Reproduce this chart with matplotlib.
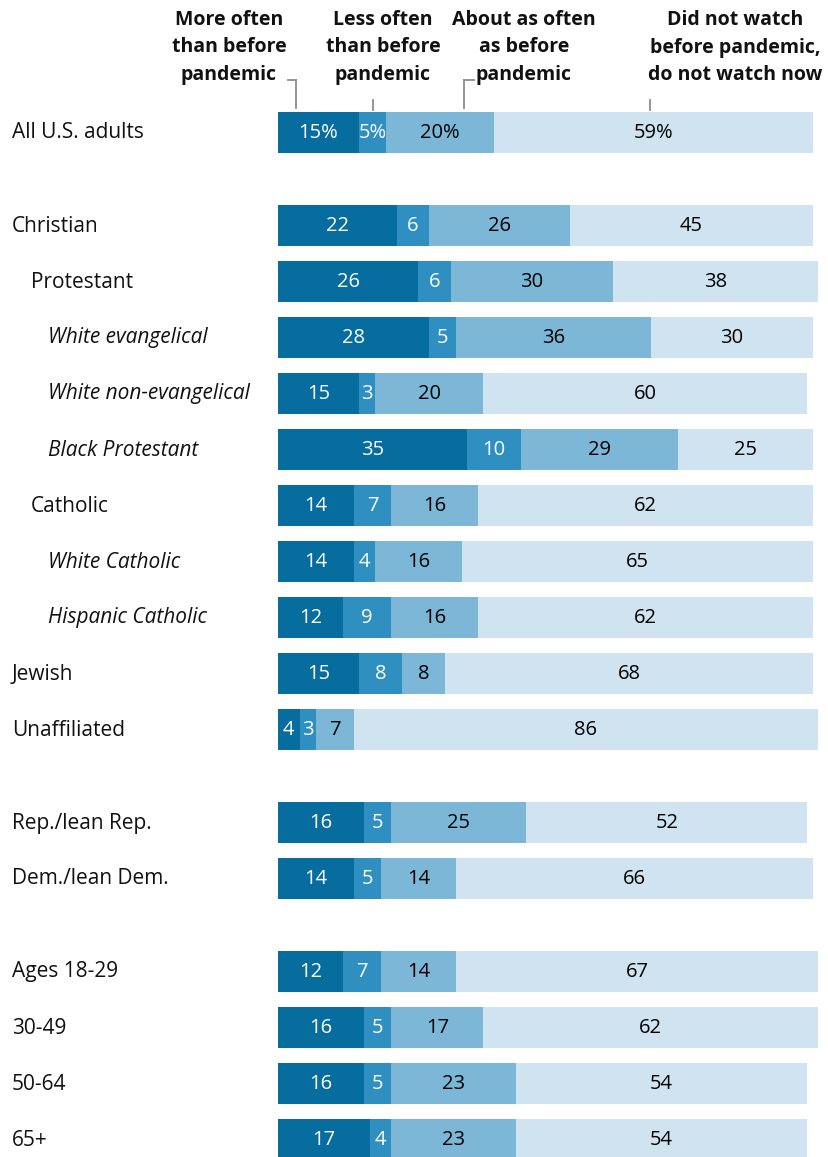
import matplotlib
matplotlib.use("Agg")
import matplotlib.pyplot as plt
from matplotlib.transforms import blended_transform_factory
from matplotlib import font_manager

# ---------------- data ----------------
categories = ["All U.S. adults", "Christian", "Protestant", "White evangelical",
              "White non-evangelical", "Black Protestant", "Catholic",
              "White Catholic", "Hispanic Catholic", "Jewish", "Unaffiliated",
              "Rep./lean Rep.", "Dem./lean Dem.",
              "Ages 18-29", "30-49", "50-64", "65+"]
indent = [0, 0, 1, 2, 2, 2, 1, 2, 2, 0, 0, 0, 0, 0, 0, 0, 0]
italic = [False, False, False, True, True, True, False, True, True,
          False, False, False, False, False, False, False, False]
group = [0, 1, 1, 1, 1, 1, 1, 1, 1, 1, 1, 2, 2, 3, 3, 3, 3]

more_often = [15, 22, 26, 28, 15, 35, 14, 14, 12, 15, 4, 16, 14, 12, 16, 16, 17]
less_often = [5, 6, 6, 5, 3, 10, 7, 4, 9, 8, 3, 5, 5, 7, 5, 5, 4]
about_same = [20, 26, 30, 36, 20, 29, 16, 16, 16, 8, 7, 25, 14, 14, 17, 23, 23]
not_watch = [59, 45, 38, 30, 60, 25, 62, 65, 62, 68, 86, 52, 66, 67, 62, 54, 54]

series = [more_often, less_often, about_same, not_watch]
series_names = ["More often\nthan before\npandemic",
                "Less often\nthan before\npandemic",
                "About as often\nas before\npandemic",
                "Did not watch\nbefore pandemic,\ndo not watch now"]
colors = ["#066d9e", "#2e8fc0", "#7cb7d7", "#d0e3f0"]
text_colors = ["white", "white", "black", "black"]

# ---------------- fonts ----------------
avail = {f.name for f in font_manager.fontManager.ttflist}
font = "Open Sans" if "Open Sans" in avail else "DejaVu Sans"

W, H = 829, 1157
fig = plt.figure(figsize=(W / 100, H / 100), dpi=100)
ax = fig.add_axes([278 / W, 0, 540 / W, 1])
ax.set_xlim(0, 100)
ax.set_ylim(H, 0)
ax.axis("off")

# row centres (pixel units along y)
ys = []
y = 132
prev = group[0]
for i, g in enumerate(group):
    if i > 0:
        y += 56
        if g != prev:
            y += 37
    prev = g
    ys.append(y)

bar_h = 41
left = [0] * len(categories)
for s, (vals, col, tc) in enumerate(zip(series, colors, text_colors)):
    ax.barh(ys, vals, left=left, height=bar_h, color=col, linewidth=0)
    for i, v in enumerate(vals):
        txt = f"{v}%" if i == 0 else f"{v}"
        ax.text(left[i] + v / 2, ys[i] + 1, txt, ha="center", va="center",
                color=tc, fontsize=14.5, family=font)
    left = [l + v for l, v in zip(left, vals)]

# category labels
tr = blended_transform_factory(fig.transFigure, ax.transData)
indent_px = [12, 31, 48]
for i, c in enumerate(categories):
    ax.text(indent_px[indent[i]] / W, ys[i] + 1, c, transform=tr, ha="left",
            va="center", fontsize=15, family=font,
            style="italic" if italic[i] else "normal", color="#111111")

# header labels
ftr = fig.transFigure
head_x = [229, 383, 524, 735]
for hx, name in zip(head_x, series_names):
    fig.text(hx / W, 1 - 10 / H, name, ha="center", va="top", fontsize=14,
             fontweight="bold", family=font,
             linespacing=1.5, color="#111111")

# leader lines (figure pixel coords)
def seg(x0, y0, x1, y1):
    fig.add_artist(plt.Line2D([x0 / W, x1 / W], [1 - y0 / H, 1 - y1 / H],
                              transform=ftr, color="#8c8c8c", lw=1.3))

seg(288, 80, 296, 80); seg(296, 80, 296, 108)
seg(373, 100, 373, 110)
seg(464, 80, 474, 80); seg(464, 80, 464, 108)
seg(650, 100, 650, 110)

fig.savefig("out.png", dpi=100)
